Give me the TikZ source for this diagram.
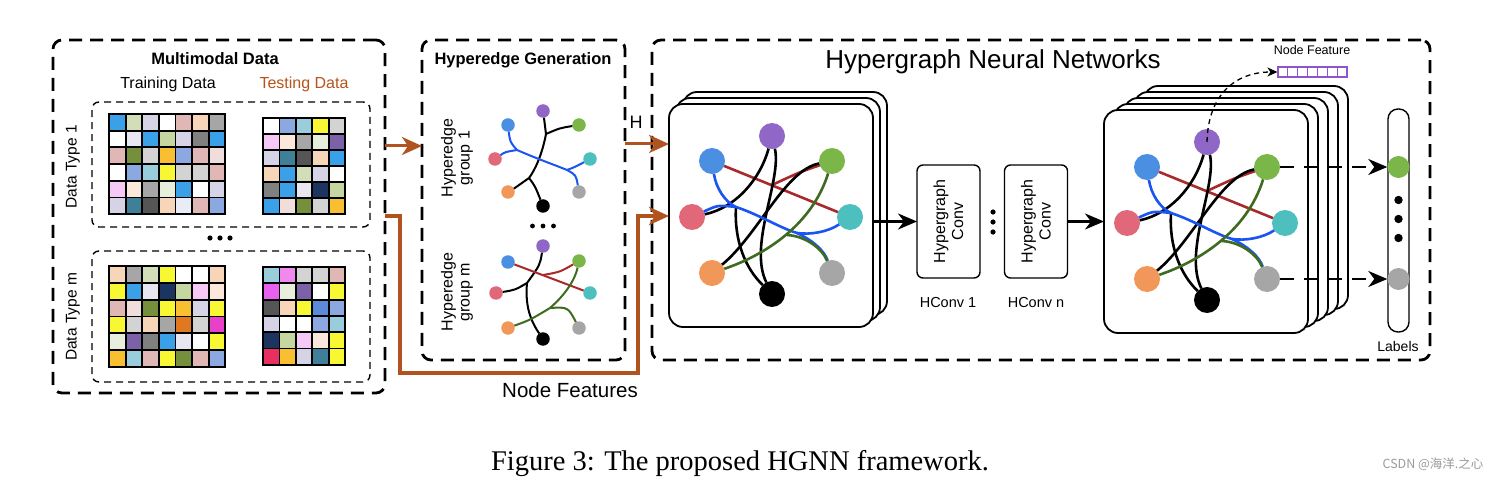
\documentclass[tikz,border=0pt]{standalone}
\usepackage{fontspec}
\setmainfont{Liberation Sans}
\newfontfamily\capfont{Liberation Serif}
\newfontfamily\cjk{Noto Sans CJK SC}
\usetikzlibrary{arrows.meta,calc}
% cell colours
\definecolor{kbl}{HTML}{3AA0E8}
\definecolor{ksg}{HTML}{D3DDB8}
\definecolor{klv}{HTML}{D7D3E6}
\definecolor{kwh}{HTML}{FFFFFF}
\definecolor{krs}{HTML}{E1B7B6}
\definecolor{kpc}{HTML}{F6D5B8}
\definecolor{kgy}{HTML}{A6A6A6}
\definecolor{kll}{HTML}{E8E6F0}
\definecolor{ksG}{HTML}{C5D6A0}
\definecolor{kdg}{HTML}{808080}
\definecolor{kol}{HTML}{768F3D}
\definecolor{klg}{HTML}{D3D3D3}
\definecolor{kgd}{HTML}{F8C030}
\definecolor{kcf}{HTML}{8BA8E0}
\definecolor{kpp}{HTML}{F0DEDC}
\definecolor{klb}{HTML}{9ACDDC}
\definecolor{kye}{HTML}{F7F733}
\definecolor{kpk}{HTML}{F6C8F6}
\definecolor{kcr}{HTML}{FBE8DA}
\definecolor{kpg}{HTML}{E8EEDC}
\definecolor{ktl}{HTML}{3F7F98}
\definecolor{kdd}{HTML}{555555}
\definecolor{kvl}{HTML}{E8ECF4}
\definecolor{kpu}{HTML}{7B62A8}
\definecolor{knv}{HTML}{1C3460}
\definecolor{kor}{HTML}{E07820}
\definecolor{kmg}{HTML}{E840C8}
\definecolor{kvi}{HTML}{F088F0}
\definecolor{km2}{HTML}{E860F0}
\definecolor{kb2}{HTML}{5A8AD8}
\definecolor{kcm}{HTML}{E83060}
% node colours
\definecolor{nP}{HTML}{9067C6}
\definecolor{nB}{HTML}{4A8FE2}
\definecolor{nG}{HTML}{7AB648}
\definecolor{nR}{HTML}{E06878}
\definecolor{nC}{HTML}{4DBFBF}
\definecolor{nO}{HTML}{F2975A}
\definecolor{nY}{HTML}{A6A6A6}
\definecolor{nK}{HTML}{000000}
\definecolor{eB}{HTML}{1A55F2}
\definecolor{eR}{HTML}{A82A2A}
\definecolor{eG}{HTML}{3E6B1F}
\definecolor{eK}{HTML}{000000}
\definecolor{brownc}{HTML}{B0531E}
\definecolor{testc}{HTML}{B5541C}
\definecolor{nfP}{HTML}{8E55D0}
\definecolor{wmc}{HTML}{9A9A9A}

\newcommand{\fs}[2]{\fontsize{#1}{#2}\selectfont}

\newcommand{\cgrid}[6]{%
  \foreach \cc [count=\ii from 0] in {#6} {%
    \pgfmathtruncatemacro{\myGc}{mod(\ii,#5)}%
    \pgfmathtruncatemacro{\myGr}{floor(\ii/#5)}%
    \fill[fill=\cc] ({#1+\myGc*#3},{#2+\myGr*#4}) rectangle ++(#3,#4);
  }%
  \foreach \k in {1,...,#5} {\draw[line width=1.8pt] ({#1+\k*#3},#2) -- ++(0,{6*#4});}%
  \foreach \k in {1,...,5} {\draw[line width=1.8pt] (#1,{#2+\k*#4}) -- ++({#5*#3},0);}%
  \draw[line width=2.4pt] (#1,#2) rectangle ++({#5*#3},{6*#4});
}

\tikzset{
  obox/.style={draw, line width=2.8pt, dash pattern=on 13pt off 8pt, rounded corners=9pt, inner sep=0pt, outer sep=0pt},
  ibox/.style={draw, line width=1.4pt, dash pattern=on 7pt off 5pt, rounded corners=7pt, inner sep=0pt, outer sep=0pt},
  card/.style={draw, line width=1.8pt, fill=white, rounded corners=14pt, minimum width=204pt, minimum height=223pt, inner sep=0pt, outer sep=0pt},
  bn/.style={circle, fill=#1, minimum size=26pt, inner sep=0pt, outer sep=0pt},
  sn/.style={circle, fill=#1, minimum size=13.5pt, inner sep=0pt, outer sep=0pt},
  hedge/.style={line width=2.6pt, draw=#1},
  shedge/.style={line width=2pt, draw=#1},
  bigtip/.style={-{Stealth[length=20pt,width=18pt,inset=6pt]}},
  midtip/.style={-{Stealth[length=19pt,width=16pt,inset=6pt]}},
  brarr/.style={draw=brownc, line width=3pt, bigtip},
  blarr/.style={draw=black, line width=2.4pt, midtip},
  convbox/.style={draw, line width=1.4pt, rounded corners=6pt, minimum width=63pt, minimum height=113pt, inner sep=0pt, outer sep=0pt},
  txt/.style={font=\fs{16}{17}, inner sep=0pt},
  btxt/.style={font=\bfseries\fs{16.5}{19}, inner sep=0pt},
}

\newcommand{\biggraph}[1]{%
  \node[bn=nP] (#1P) at (772,136) {};
  \node[bn=nB] (#1B) at (712,161) {};
  \node[bn=nG] (#1G) at (832,161) {};
  \node[bn=nR] (#1R) at (692,217) {};
  \node[bn=nC] (#1C) at (850,217) {};
  \node[bn=nO] (#1O) at (712,273) {};
  \node[bn=nY] (#1Y) at (832,273) {};
  \node[bn=nK] (#1K) at (772,294) {};
  \coordinate (#1r) at (772,185);
  \coordinate (#1j) at (736,207);
  \coordinate (#1c) at (797,233);
  \coordinate (#1g) at (787,235);
  \draw[hedge=eR] (#1B) -- (#1C);
  \draw[hedge=eR] (#1G) .. controls (800,172) .. (#1r);
  \draw[hedge=eK] (#1G) .. controls (785,170) and (758,235) .. (#1O);
  \draw[hedge=eK] (#1R) .. controls (735,208) and (760,180) .. (#1P);
  \draw[hedge=eK] (#1j) .. controls (734,240) and (745,268) .. (#1K);
  \draw[hedge=eK] (#1P) .. controls (782,180) and (748,245) .. (#1K);
  \draw[hedge=eB] (#1B) .. controls (716,188) and (725,202) .. (#1j);
  \draw[hedge=eB] (#1R) .. controls (718,205) .. (#1j);
  \draw[hedge=eB] (#1j) .. controls (760,215) and (780,228) .. (#1c);
  \draw[hedge=eB] (#1C) .. controls (828,232) and (810,235) .. (#1c);
  \draw[hedge=eB] (#1c) .. controls (812,240) and (824,250) .. (#1Y);
  \draw[hedge=eG] (#1O) .. controls (765,255) and (812,225) .. (#1G);
  \draw[hedge=eG] (#1g) .. controls (805,236) and (822,248) .. (#1Y);
}

\begin{document}
\begin{tikzpicture}[x=1pt,y=-1pt]
\useasboundingbox (0,0) rectangle (1496,486);

% ---------- Multimodal data ----------
\node[obox, minimum width=332pt, minimum height=353pt] (box1) at (219,216.5) {};
\node[btxt] (t1) at (215,59) {Multimodal Data};
\node[txt] (tr) at (168,84) {Training Data};
\node[txt, text=testc] (te) at (304,84) {Testing Data};
\node[ibox, minimum width=278pt, minimum height=125pt] (in1) at (231,164.5) {};
\node[ibox, minimum width=278pt, minimum height=131pt] (in2) at (231,316.5) {};
\node[txt, font=\fs{15.5}{17}, rotate=90] (dt1) at (73,167) {Data Type 1};
\node[txt, font=\fs{15.5}{17}, rotate=90] (dtm) at (73,317) {Data Type m};
\cgrid{109}{114}{16.6}{16.7}{7}{kbl,ksg,klv,kwh,krs,kpc,kgy,kwh,kll,kbl,ksG,klv,kdg,kbl,krs,kol,klg,kgd,kcf,krs,kpp,kwh,kcf,klb,kye,klg,klg,krs,kpk,kcr,kgy,kpg,kbl,kwh,klv,klv,ktl,kdd,kpc,kvl,krs,kcf}
\cgrid{263}{118}{16.4}{16}{5}{kwh,kcf,klb,kye,klg,kpk,kcr,kgy,kpg,kpu,klv,ktl,kdd,kpc,kbl,kpc,kbl,ksg,klv,kwh,kdg,kbl,kll,knv,ksG,kbl,kpp,kol,klg,kgd}
\cgrid{109}{266}{16.6}{16.8}{7}{kpc,kgy,ksg,kye,kwh,kwh,kpc,kye,kbl,kll,knv,ksG,kpk,kcr,krs,kpp,kol,kye,kgd,klv,kye,kye,klg,kpc,kgy,kor,klg,kmg,kpg,kpu,kdg,kbl,kll,kwh,kye,kgd,klb,krs,kye,kol,krs,kcf}
\cgrid{263}{267}{16.4}{16.3}{5}{klb,kvi,klg,klg,krs,km2,kpg,kpu,kwh,kye,kdd,kpc,kye,kb2,kcf,klv,kwh,kwh,kcf,klb,knv,ksG,kpk,kcr,kye,kcm,kgd,klv,ktl,kye}
\foreach \dx in {-10,0,10} {\fill ({220+\dx},238) circle (2.6pt);}

% ---------- Hyperedge generation ----------
\node[obox, minimum width=203pt, minimum height=320pt] (box2) at (523.5,200) {};
\node[btxt] (t2) at (523,60) {Hyperedge Generation};
\node[txt, rotate=90, align=center, font=\fs{16}{17}] (hg1) at (457,158) {Hyperedge\\group 1};
\node[txt, rotate=90, align=center, font=\fs{16}{17}] (hgm) at (457,292) {Hyperedge\\group m};
% group 1
\node[sn=nP] (aP) at (543,111) {};
\node[sn=nB] (aB) at (508,125) {};
\node[sn=nG] (aG) at (579,125) {};
\node[sn=nR] (aR) at (495,159) {};
\node[sn=nC] (aC) at (590,159) {};
\node[sn=nO] (aO) at (508,192) {};
\node[sn=nY] (aY) at (579,192) {};
\node[sn=nK] (aK) at (543,206) {};
\coordinate (aj1) at (546,134);
\coordinate (aj2) at (529,178);
\coordinate (aj3) at (517,150);
\coordinate (aj4) at (567,170);
\draw[shedge=eK] (aP) .. controls (545,125) .. (aj1);
\draw[shedge=eK] (aG) .. controls (560,128) .. (aj1);
\draw[shedge=eK] (aj1) .. controls (542,155) and (535,170) .. (aj2);
\draw[shedge=eK] (aj2) .. controls (522,184) .. (aO);
\draw[shedge=eK] (aj2) .. controls (535,186) .. (aK);
\draw[shedge=eB] (aB) .. controls (510,142) .. (aj3);
\draw[shedge=eB] (aR) .. controls (505,152) .. (aj3);
\draw[shedge=eB] (aj3) .. controls (540,160) and (555,165) .. (aj4);
\draw[shedge=eB] (aj4) .. controls (575,167) .. (aC);
\draw[shedge=eB] (aj4) .. controls (576,175) .. (aY);
\foreach \dx in {-10.5,0,10.5} {\fill ({543+\dx},226) circle (2.4pt);}
% group m
\node[sn=nP] (bP) at (543,246) {};
\node[sn=nB] (bB) at (508,262) {};
\node[sn=nG] (bG) at (579,261) {};
\node[sn=nR] (bR) at (496,293) {};
\node[sn=nC] (bC) at (590,293) {};
\node[sn=nO] (bO) at (508,328) {};
\node[sn=nY] (bY) at (579,328) {};
\node[sn=nK] (bK) at (543,339) {};
\coordinate (bj1) at (543,275);
\coordinate (bj2) at (527,283);
\coordinate (bj3) at (550,308);
\draw[shedge=eK] (bP) .. controls (540,265) .. (bj2);
\draw[shedge=eK] (bR) .. controls (515,290) .. (bj2);
\draw[shedge=eK] (bj2) .. controls (525,305) and (530,320) .. (bK);
\draw[shedge=eR] (bB) -- (bC);
\draw[shedge=eR] (bG) .. controls (560,272) .. (bj1);
\draw[shedge=eG] (bO) .. controls (530,320) .. (bj3);
\draw[shedge=eG] (bj3) .. controls (565,295) and (575,280) .. (bG);
\draw[shedge=eG] (bj3) .. controls (568,307) .. (bY);

% ---------- Hypergraph neural networks ----------
\node[obox, minimum width=778pt, minimum height=320pt] (box3) at (1041,200) {};
\node[inner sep=0pt, font=\fs{26}{30}] (t3) at (993,62) {Hypergraph Neural Networks};

% stack 1
\node[card] (s1c) at (785,203.5) {};
\node[card] (s1b) at (778,209.5) {};
\node[card] (s1f) at (771,215.5) {};
\biggraph{s}

% convs
\node[convbox] (conv1) at (948.5,221.5) {};
\node[convbox] (conv2) at (1036,221.5) {};
\node[txt, rotate=90, align=center, font=\fs{16}{18}] (cv1t) at (conv1) {Hypergraph\\Conv};
\node[txt, rotate=90, align=center, font=\fs{16}{18}] (cv2t) at (conv2) {Hypergraph\\Conv};
\foreach \dy in {-10,0,10} {\fill (993,{222+\dy}) circle (2.6pt);}
\node[inner sep=0pt, font=\fs{14.5}{17}] (hc1) at (948,303) {HConv 1};
\node[inner sep=0pt, font=\fs{14.5}{17}] (hcn) at (1036,303) {HConv n};

% stack 2
\node[card] (s2a) at (1246,197.5) {};
\node[card] (s2b) at (1236,203.5) {};
\node[card] (s2c) at (1226,209.5) {};
\node[card] (s2d) at (1216,215.5) {};
\node[card] (s2f) at (1206,221.5) {};
\begin{scope}[shift={(435,6)}]
\biggraph{t}
\end{scope}

% labels column
\node[draw, line width=1.4pt, rounded corners=10pt, minimum width=21pt, minimum height=223pt, inner sep=0pt] (LB) at (1398.5,220.5) {};
\node[circle, fill=nG, minimum size=22pt, inner sep=0pt] (LG) at (1398.5,167) {};
\node[circle, fill=nY, minimum size=22pt, inner sep=0pt] (LY) at (1398.5,279) {};
\foreach \yy in {200,219,238} {\fill (1398.5,\yy) circle (4.2pt);}
\node[inner sep=0pt, font=\fs{14}{16}] (lbt) at (1398,346) {Labels};
\draw[blarr, dash pattern=on 14pt off 10pt] (tG) -- (LG);
\draw[blarr, dash pattern=on 14pt off 10pt] (tY) -- (LY);

% node feature
\node[draw=nfP, line width=1.2pt, minimum width=69pt, minimum height=10pt, inner sep=0pt] (NF) at (1312.5,72) {};
\foreach \k in {1,...,6} {\draw[nfP, line width=1.2pt] ({1278+\k*9.857},67) -- ++(0,10);}
\node[inner sep=0pt, font=\fs{12.5}{15}] (nft) at (1312,50) {Node Feature};
\draw[line width=1.3pt, dash pattern=on 5pt off 4pt, -{Stealth[length=10pt,width=9pt,inset=3pt]}] (tP.center) .. controls (1208,95) and (1235,72) .. (NF.west);

% ---------- connectors ----------
\coordinate (yA) at (0,146);
\coordinate (yB) at (0,144);
\coordinate (yC) at (0,216);
\draw[brarr] (box1.east |- yA) -- (box2.west |- yA);
\draw[brarr] (box2.east |- yB) -- (s1f.west |- yB);
\node[inner sep=0pt, font=\fs{18}{20}] (Hl) at (636,122) {H};
\draw[draw=brownc, line width=4.5pt, bigtip] (box1.east |- yC) -- (400,216) -- (400,373) -- (638,373) -- (638,216) -- (s1f.west |- yC);
\node[inner sep=0pt, font=\fs{20.5}{24}] (nfl) at (570,390) {Node Features};
\draw[blarr] (conv1.west -| s1f.east) -- (conv1.west);
\draw[blarr] (conv2.east) -- (conv2.east -| s2f.west);

% ---------- caption ----------
\node[inner sep=0pt, font=\capfont\fs{28.5}{32}] (cap) at (740,464) {Figure 3: The proposed HGNN framework.};
\node[inner sep=0pt, font=\cjk\fs{12.5}{15}, text=wmc] (wm) at (1433,464) {CSDN @海洋.之心};
\end{tikzpicture}
\end{document}
